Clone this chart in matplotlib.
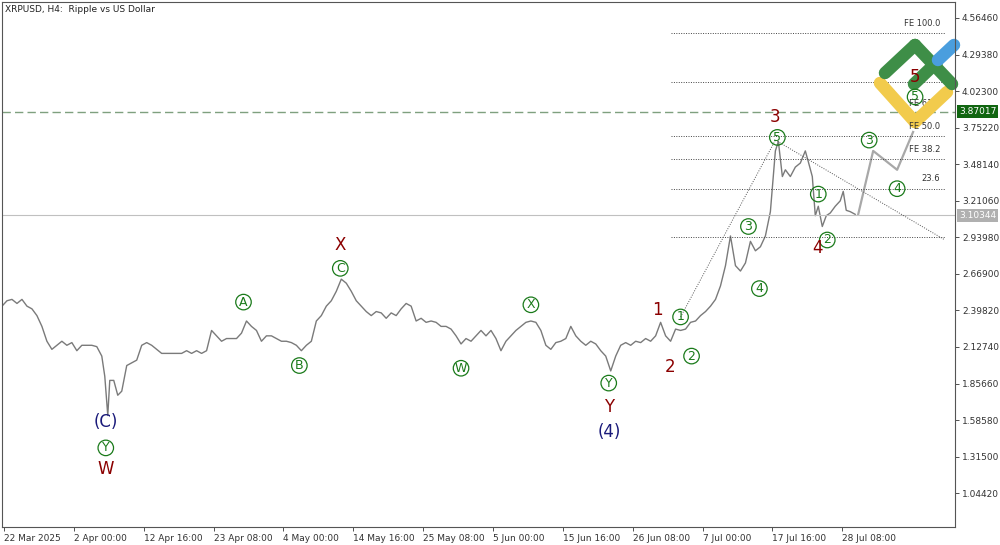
import matplotlib
matplotlib.use("Agg")
import matplotlib.pyplot as plt
import numpy as np

# time axis in chart units (1 unit ~ one pixel column of the original)
x_pos = [0,5,10,15,20,25,30,35,40,45,50,55,60,65,70,75,80,85,90,95,100,103,106,108,112,116,120,125,130,135,
         140,145,150,155,160,165,170,175,180,185,190,195,200,205,210,215,220,225,230,235,240,245,250,255,260,265,
         270,275,280,285,290,295,300,305,310,315,320,325,330,335,340,345,350,355,360,365,370,375,380,385,390,395,
         400,405,410,415,420,425,430,435,440,445,450,455,460,465,470,475,480,485,490,495,500,505,510,515,520,525,
         530,535,540,545,550,555,560,565,570,575,580,585,590,595,600,605,610,615,620,625,630,635,640,645,650,655,
         660,665,670,675,680,685,690,695,700,705,710,715,720,725,730,735,740,745,750,755,760,765,770,775,778,782,
         785,790,795,800,805,808,812,815,818,822,826,830,835,840,843,846,850,855]
price = [2.43,2.47,2.48,2.45,2.48,2.43,2.41,2.36,2.28,2.17,2.11,2.14,2.17,2.14,2.16,2.10,2.14,2.14,2.14,2.13,
         2.06,1.91,1.62,1.88,1.88,1.77,1.80,1.99,2.01,2.03,2.14,2.16,2.14,2.11,2.08,2.08,2.08,2.08,2.08,2.10,
         2.08,2.10,2.08,2.10,2.25,2.21,2.17,2.19,2.19,2.19,2.23,2.32,2.28,2.25,2.17,2.21,2.21,2.19,2.17,2.17,
         2.16,2.14,2.10,2.14,2.17,2.32,2.36,2.43,2.47,2.54,2.63,2.60,2.54,2.47,2.43,2.39,2.36,2.39,2.38,2.34,
         2.38,2.36,2.41,2.45,2.43,2.32,2.34,2.31,2.32,2.31,2.28,2.28,2.26,2.21,2.15,2.19,2.17,2.21,2.25,2.21,
         2.25,2.19,2.10,2.17,2.21,2.25,2.28,2.31,2.32,2.31,2.25,2.14,2.11,2.16,2.17,2.19,2.28,2.21,2.17,2.14,
         2.17,2.15,2.10,2.06,1.95,2.06,2.14,2.16,2.14,2.17,2.16,2.19,2.17,2.21,2.31,2.21,2.17,2.26,2.25,2.26,
         2.31,2.32,2.36,2.39,2.43,2.48,2.58,2.73,2.95,2.73,2.69,2.75,2.91,2.84,2.87,2.95,3.13,3.58,3.65,3.39,
         3.44,3.39,3.46,3.49,3.58,3.50,3.39,3.10,3.17,3.02,3.10,3.12,3.17,3.21,3.28,3.14,3.13,3.11]
fc_x = [858, 873, 897, 913]
fc_p = [3.11, 3.58, 3.44, 3.72]

yticks = [4.56460,4.29380,4.02300,3.75220,3.48140,3.21060,2.93980,2.66900,2.39820,2.12740,1.85660,1.58580,1.31500,1.04420]
xtick_pos = [2,72,142,212,282,352,422,492,562,632,702,772,842]
xtick_lbl = ["22 Mar 2025","2 Apr 00:00","12 Apr 16:00","23 Apr 08:00","4 May 00:00","14 May 16:00","25 May 08:00",
             "5 Jun 00:00","15 Jun 16:00","26 Jun 08:00","7 Jul 00:00","17 Jul 16:00","28 Jul 08:00"]
fib_levels = [4.45, 4.09, 3.69, 3.52, 3.30, 2.94]
fib_labels = ["FE 100.0", "", "FE 50.0", "FE 38.2", "23.6", ""]
bid = 3.10344
level_green = 3.87017

# wave labels: (x, price, text, kind)  kind: c=circled green, r=dark red, n=navy
waves = [(104,1.57,"(C)","n"),(104,1.38,"Y","c"),(104,1.22,"W","r"),
         (242,2.46,"A","c"),(298,1.99,"B","c"),(339,2.71,"C","c"),(339,2.88,"X","r"),
         (460,1.97,"W","c"),(530,2.44,"X","c"),(608,1.86,"Y","c"),(608,1.68,"Y","r"),(609,1.50,"(4)","n"),
         (657,2.40,"1","r"),(669,1.98,"2","r"),(680,2.35,"1","c"),(691,2.06,"2","c"),
         (748,3.02,"3","c"),(759,2.56,"4","c"),(775,3.83,"3","r"),(777,3.68,"5","c"),
         (818,3.26,"1","c"),(827,2.92,"2","c"),(817,2.86,"4","r"),(869,3.66,"3","c"),(897,3.30,"4","c"),
         (915,3.98,"5","c"),(915,4.13,"5","r")]

fig = plt.figure(figsize=(10, 5.45), dpi=100)
ax = fig.add_axes([0.002, 1-527/545, 0.953, 525/545])
ax.set_xlim(0, 955)
ax.set_ylim(0.794, 4.683)
ax.plot(x_pos, price, color="#7a7a7a", lw=1.0)
ax.plot(fc_x, fc_p, color="#a8a8a8", lw=1.6)
ax.axhline(bid, color="#c0c0c0", lw=0.8)
ax.axhline(level_green, color="#7fa07f", lw=1.0, ls=(0, (6, 3)))
for lv, lb in zip(fib_levels, fib_labels):
    ax.plot([670, 945], [lv, lv], color="#444444", lw=0.7, ls=(0, (1, 1.5)))
    if lb:
        ax.text(940, lv + 0.04, lb, fontsize=6, ha="right", va="bottom", color="#333333")
ax.plot([680, 775], [2.35, 3.66], color="#555555", lw=0.7, ls=(0, (1, 1.5)))
ax.plot([775, 945], [3.66, 2.92], color="#555555", lw=0.7, ls=(0, (1, 1.5)))

for x, p, t, k in waves:
    if k == "c":
        ax.text(x, p, t, fontsize=9, color="#1a7a1a", ha="center", va="center",
                bbox=dict(boxstyle="circle,pad=0.1", fc="none", ec="#1a7a1a", lw=0.9))
    elif k == "r":
        ax.text(x, p, t, fontsize=12, color="#8b0000", ha="center", va="center")
    else:
        ax.text(x, p, t, fontsize=12, color="#1a1a7a", ha="center", va="center")

# logo (decorative)
lc = dict(solid_capstyle="round", transform=ax.transAxes, clip_on=False)
def A(px, py):
    return px / 953, 1 - (py - 2) / 525
for (p1, p2, c) in [((878, 83), (913, 122), "#f2cb4c"), ((913, 122), (945, 92), "#f2cb4c"),
                    ((883, 73), (913, 45), "#3e8e47"), ((913, 45), (950, 84), "#3e8e47"),
                    ((912, 84), (935, 62), "#3e8e47"), ((936, 60), (952, 45), "#4a9ede")]:
    (a, b), (cc, d) = A(*p1), A(*p2)
    ax.plot([a, cc], [b, d], color=c, lw=9, **lc)

ax.yaxis.tick_right()
ax.set_yticks(yticks)
ax.set_yticklabels([f"{v:.5f}" for v in yticks], fontsize=6.5, color="#333333")
ax.set_xticks(xtick_pos)
ax.set_xticklabels(xtick_lbl, fontsize=6.5, color="#333333", ha="left")
ax.tick_params(length=3, width=0.6, color="#333333", pad=2)
for s in ax.spines.values():
    s.set_color("#555555"); s.set_linewidth(0.8)
ax.text(0.003, 0.995, "XRPUSD, H4:  Ripple vs US Dollar", transform=ax.transAxes,
        fontsize=6.5, va="top", ha="left", color="#222222")
ax.text(940, 3.90, "FE 61.8", fontsize=6, ha="right", va="bottom", color="#333333", zorder=0)
for val, bg, fg in [(level_green, "#116611", "white"), (bid, "#b0b0b0", "white")]:
    ax.text(1.004, val, f"{val:.5f}", transform=ax.get_yaxis_transform(), fontsize=6.5,
            va="center", ha="left", color=fg, bbox=dict(boxstyle="square,pad=0.2", fc=bg, ec="none"))
fig.savefig("out.png", dpi=100, facecolor="white")
